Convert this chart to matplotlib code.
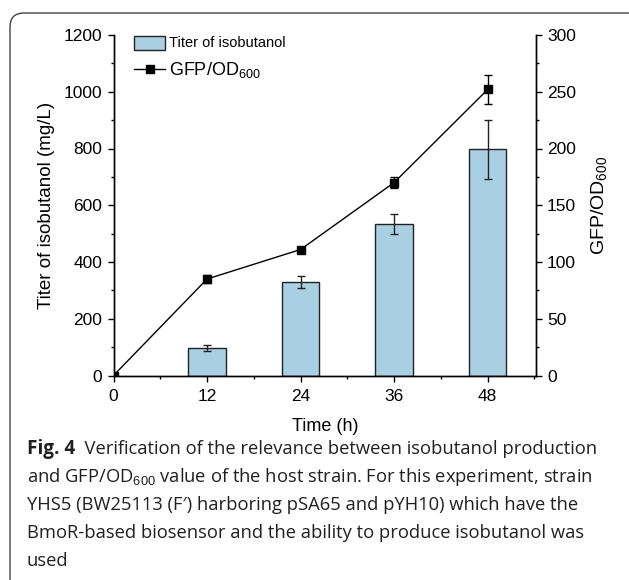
import numpy as np
import matplotlib
matplotlib.use('Agg')
import matplotlib.pyplot as plt
from matplotlib.patches import FancyBboxPatch
from matplotlib.transforms import IdentityTransform
from matplotlib.ticker import MultipleLocator

# data
time_h = [0, 12, 24, 36, 48]
bar_time = [12, 24, 36, 48]
titer = [97, 330, 533, 797]
titer_err = [12, 22, 35, 103]
gfp = [0, 85, 111, 170, 252]
gfp_err = [0, 3.5, 2, 5, 13]

caption_bold = 'Fig. 4'
caption_rest = '  Verification of the relevance between isobutanol production'
caption_lines = [
    'and GFP/OD$_{600}$ value of the host strain. For this experiment, strain',
    'YHS5 (BW25113 (F\u2032) harboring pSA65 and pYH10) which have the',
    'BmoR-based biosensor and the ability to produce isobutanol was',
    'used',
]

plt.rcParams['font.family'] = 'Liberation Sans'
plt.rcParams['mathtext.fontset'] = 'custom'
plt.rcParams['mathtext.rm'] = 'Liberation Sans'

fig = plt.figure(figsize=(6.29, 5.8), dpi=100)
ax = fig.add_axes([113.5 / 629, 1 - 375.5 / 580, 422.5 / 629, 340.5 / 580])
ax2 = ax.twinx()

ax.bar(bar_time, titer, width=4.8, color='#a8cfe2', edgecolor='#222222',
       linewidth=1.0, label='Titer of isobutanol', zorder=2)
ax.errorbar(bar_time, titer, yerr=titer_err, fmt='none', ecolor='#222222',
            elinewidth=1.0, capsize=3, capthick=1.0, zorder=3)

ax2.errorbar(time_h, gfp, yerr=gfp_err, fmt='none', ecolor='black',
             elinewidth=1.0, capsize=2.7, capthick=1.0, zorder=4)
ax2.plot(time_h, gfp, '-s', color='black', ms=5.2, lw=1.0,
         label='GFP/OD$_{600}$', zorder=5)

ax.set_xlim(0, 54.2)
ax.set_ylim(0, 1200)
ax2.set_ylim(0, 300)
ax.set_xticks(time_h)
ax.xaxis.set_minor_locator(MultipleLocator(6))
ax.yaxis.set_major_locator(MultipleLocator(200))
ax.yaxis.set_minor_locator(MultipleLocator(100))
ax2.yaxis.set_major_locator(MultipleLocator(50))
ax2.yaxis.set_minor_locator(MultipleLocator(25))

for a in (ax, ax2):
    a.spines['top'].set_visible(False)
    for s in a.spines.values():
        s.set_linewidth(1.0)
    a.tick_params(which='major', direction='out', length=4.5, width=1.0,
                  labelsize=12.5)
    a.tick_params(which='minor', direction='out', length=2.5, width=1.0)
ax.tick_params(axis='x', which='major', pad=5.5)

ax.set_xlabel('Time (h)', fontsize=13, labelpad=10)
ax.set_ylabel('Titer of isobutanol (mg/L)', fontsize=13.5, labelpad=6)
ax2.set_ylabel('GFP/OD$_{600}$', fontsize=14, rotation=90, labelpad=10)

h1, l1 = ax.get_legend_handles_labels()
h2, l2 = ax2.get_legend_handles_labels()
leg = ax2.legend(h1 + h2, l1 + l2, loc='upper left', frameon=False,
                 bbox_to_anchor=(0.02, 1.035), handlelength=2.2,
                 handleheight=1.2, labelspacing=0.7, handletextpad=0.3)
leg.get_texts()[0].set_fontsize(10.5)
leg.get_texts()[1].set_fontsize(13)

# caption
cap_font = 'Open Sans'
cap_size = 13.2
cap_color = '#231f20'
y0 = 1 - 454 / 580
t1 = fig.text(27 / 629, y0, caption_bold, fontsize=cap_size + 0.4,
              fontweight='bold', family=cap_font, va='baseline', color=cap_color)
fig.canvas.draw()
bb = t1.get_window_extent()
fig.text(bb.x1 / fig.bbox.width, y0, caption_rest, fontsize=cap_size,
         family=cap_font, va='baseline', color=cap_color)
for i, line in enumerate(caption_lines):
    fig.text(27 / 629, y0 - (i + 1) * 28 / 580, line, fontsize=cap_size,
             family=cap_font, va='baseline', color=cap_color)

# rounded outer frame
frame = FancyBboxPatch((10, -60), 700, 627, boxstyle='round,pad=0,rounding_size=14',
                       transform=IdentityTransform(), fill=False,
                       edgecolor='#444444', linewidth=1.0, clip_on=False)
fig.patches.append(frame)

fig.savefig('out.png', dpi=100)
